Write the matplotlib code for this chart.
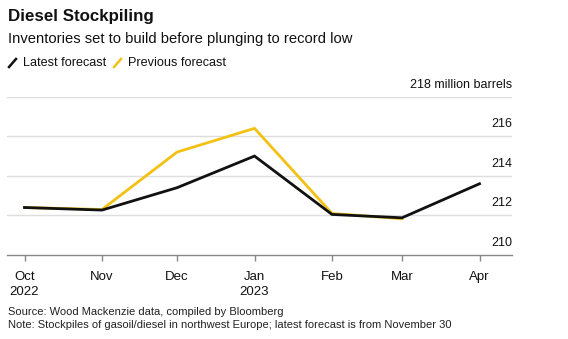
import datetime as dt

import matplotlib
matplotlib.use("Agg")
import matplotlib.pyplot as plt
from matplotlib.lines import Line2D

plt.rcParams['font.family'] = ['Liberation Sans', 'DejaVu Sans']

# monthly inventory forecasts, million barrels
months = [dt.date(2022, 10, 1), dt.date(2022, 11, 1), dt.date(2022, 12, 1),
          dt.date(2023, 1, 1), dt.date(2023, 2, 1), dt.date(2023, 3, 1),
          dt.date(2023, 4, 1)]
latest = [212.4, 212.27, 213.4, 215.0, 212.05, 211.88, 213.6]
previous_months = months[:6]
previous = [212.4, 212.3, 215.2, 216.4, 212.1, 211.83]

tick_labels = ['Oct\n2022', 'Nov', 'Dec', 'Jan\n2023', 'Feb', 'Mar', 'Apr']
y_ticks = [210, 212, 214, 216, 218]

BLACK = '#111111'
YELLOW = '#F2C114'
GRID = '#DEDEDE'

fig = plt.figure(figsize=(5.68, 3.39), dpi=100)
ax = fig.add_axes([7 / 568, 1 - 255 / 339, 505 / 568, 158.3 / 339])

ax.plot(previous_months, previous, color=YELLOW, lw=2.0, solid_joinstyle='miter', zorder=3)
ax.plot(months, latest, color=BLACK, lw=2.0, solid_joinstyle='miter', zorder=4)

ax.set_ylim(210, 218)
ax.set_xlim(dt.date(2022, 9, 24), dt.date(2023, 4, 14))

for v in y_ticks[1:]:
    ax.axhline(v, color=GRID, lw=1.0, zorder=1)
for s in ['top', 'right', 'left']:
    ax.spines[s].set_visible(False)
ax.spines['bottom'].set_color('#888888')
ax.spines['bottom'].set_linewidth(1.0)

ax.set_yticks([])
for v in y_ticks:
    label = '218 million barrels' if v == 218 else str(v)
    ax.text(1.0, v + 0.3, label, transform=ax.get_yaxis_transform(),
            ha='right', va='bottom', fontsize=9, color=BLACK)

ax.set_xticks(months)
ax.set_xticklabels(tick_labels, fontsize=9.5, color=BLACK, linespacing=1.3)
ax.tick_params(axis='x', length=4.5, width=1.0, color='#888888', pad=7)

fig.text(8 / 568, 1 - 17 / 339, 'Diesel Stockpiling', fontsize=12.2, weight='bold',
         va='center', ha='left', color=BLACK)
fig.text(8 / 568, 1 - 39 / 339, 'Inventories set to build before plunging to record low',
         fontsize=10.6, va='center', ha='left', color=BLACK)

# legend drawn as small slashes followed by labels
for x0, col, text in [(9, BLACK, 'Latest forecast'), (114, YELLOW, 'Previous forecast')]:
    fig.add_artist(Line2D([x0 / 568, (x0 + 7) / 568], [1 - 67 / 339, 1 - 59 / 339],
                          color=col, lw=1.8, transform=fig.transFigure))
    fig.text((x0 + 14) / 568, 1 - 63 / 339, text, fontsize=9.1, va='center',
             ha='left', color=BLACK)

fig.text(8 / 568, 1 - 312 / 339, 'Source: Wood Mackenzie data, compiled by Bloomberg',
         fontsize=8.0, va='center', ha='left', color='#222222')
fig.text(8 / 568, 1 - 325 / 339,
         'Note: Stockpiles of gasoil/diesel in northwest Europe; latest forecast is from November 30',
         fontsize=8.0, va='center', ha='left', color='#222222')

fig.savefig('out.png', dpi=100)
